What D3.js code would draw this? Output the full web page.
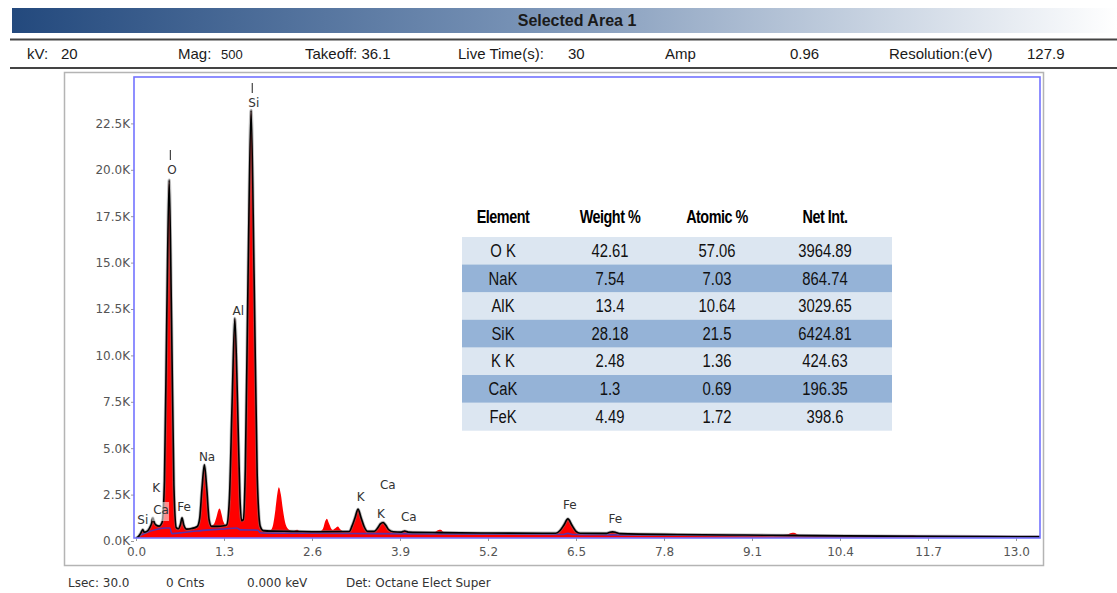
<!DOCTYPE html>
<html><head><meta charset="utf-8">
<script src="https://cdn.jsdelivr.net/npm/d3@7"></script>
<style>
html,body{margin:0;padding:0;background:#fff;}
svg{display:block;}
</style></head>
<body>
<svg id="c" width="1117" height="593"></svg>
<script>
// ---------------- DATA ----------------
const title = "Selected Area 1";
const infoItems = [
  {t:"kV:", x:27}, {t:"20", x:61}, {t:"Mag:", x:178}, {t:"500", x:221, small:true},
  {t:"Takeoff: 36.1", x:305}, {t:"Live Time(s):", x:458}, {t:"30", x:568},
  {t:"Amp", x:665}, {t:"0.96", x:790}, {t:"Resolution:(eV)", x:889}, {t:"127.9", x:1027}
];
const xTicks = [0.0, 1.3, 2.6, 3.9, 5.2, 6.5, 7.8, 9.1, 10.4, 11.7, 13.0];
const yTicks = [0, 2500, 5000, 7500, 10000, 12500, 15000, 17500, 20000, 22500];

// measured spectrum [keV, counts]
const spectrum = [
 [0.00,150],[0.04,250],[0.07,420],[0.10,620],[0.12,480],[0.16,520],[0.20,700],[0.23,950],[0.25,1250],
 [0.27,1000],[0.30,850],[0.34,800],[0.385,1000],[0.42,3200],[0.455,12200],[0.49,19450],
 [0.525,12000],[0.56,3000],[0.595,750],[0.625,700],[0.655,900],[0.68,1250],[0.705,900],[0.75,670],
 [0.80,690],[0.86,740],[0.905,820],[0.94,1200],[0.975,2850],[1.01,4100],[1.045,2850],[1.08,1150],
 [1.115,830],[1.15,900],[1.19,1300],[1.215,1650],[1.235,1750],[1.26,1500],[1.29,1050],[1.33,860],
 [1.34,870],[1.38,2300],[1.42,7500],[1.46,12000],[1.50,7500],[1.535,2400],[1.56,1100],[1.585,1150],
 [1.615,3900],[1.655,14200],[1.70,23200],[1.745,14200],[1.79,3600],[1.835,800],[1.88,560],
 [1.94,520],[1.98,560],[2.02,800],[2.06,1700],[2.09,2600],[2.11,2900],[2.14,2500],[2.17,1700],
 [2.21,900],[2.26,600],[2.32,520],[2.38,600],[2.42,520],[2.55,500],[2.70,500],[2.76,650],[2.80,1100],
 [2.82,1200],[2.85,950],[2.90,600],[2.95,700],[2.98,780],[3.02,620],[3.10,500],[3.15,520],[3.19,800],
 [3.235,1250],[3.28,1720],[3.325,1250],[3.37,780],[3.42,520],[3.52,520],[3.57,700],[3.61,920],
 [3.65,1000],[3.69,850],[3.73,620],[3.80,500],[3.92,480],[3.97,560],[4.02,480],[4.40,460],[4.46,580],
 [4.50,600],[4.55,470],[4.80,440],[5.20,430],[5.60,420],[6.00,420],[6.20,420],[6.26,550],[6.32,850],
 [6.38,1190],[6.44,850],[6.50,520],[6.56,420],[6.95,410],[7.00,470],[7.04,490],[7.09,460],[7.15,400],
 [7.60,380],[8.20,350],[8.80,330],[9.50,310],[9.62,350],[9.68,430],[9.72,440],[9.78,340],[9.90,300],
 [10.50,280],[11.30,260],[11.42,300],[11.48,310],[11.55,260],[12.20,240],[13.00,230],[13.40,220]
];
// fitted spectrum [keV, counts]
const fit = [
 [0.00,150],[0.04,250],[0.07,420],[0.10,620],[0.12,480],[0.16,520],[0.20,700],[0.23,950],[0.25,1250],
 [0.27,1000],[0.30,850],[0.34,800],[0.385,1000],[0.42,3200],[0.455,12200],[0.49,19450],
 [0.525,12000],[0.56,3000],[0.595,720],[0.625,660],[0.655,880],[0.68,1250],[0.705,880],[0.75,640],
 [0.82,670],[0.905,780],[0.94,1200],[0.975,2850],[1.01,4100],[1.045,2850],[1.08,1150],[1.115,790],
 [1.20,790],[1.30,820],[1.34,870],[1.38,2300],[1.42,7500],[1.46,12000],[1.50,7500],[1.535,2400],
 [1.56,1100],[1.585,1150],[1.615,3900],[1.655,14200],[1.70,23200],[1.745,14200],[1.79,3600],
 [1.835,800],[1.88,560],[2.00,530],[2.30,520],[2.70,500],[3.15,510],[3.19,800],[3.235,1250],[3.28,1720],
 [3.325,1250],[3.37,780],[3.42,520],[3.52,520],[3.57,700],[3.61,920],[3.65,1000],[3.69,850],[3.73,620],
 [3.80,500],[3.92,480],[3.97,540],[4.02,480],[4.50,450],[5.20,430],[6.00,420],[6.20,420],[6.26,550],
 [6.32,850],[6.38,1190],[6.44,850],[6.50,520],[6.56,420],[6.95,410],[7.00,470],[7.04,490],[7.09,460],
 [7.15,400],[8.00,350],[9.00,320],[10.00,290],[11.00,265],[12.00,245],[13.40,220]
];
// background [keV, counts]
const background = [
 [0.03,250],[0.15,450],[0.30,620],[0.44,700],[0.50,700],[0.53,400],[0.70,460],[0.90,540],[1.10,600],
 [1.30,650],[1.49,700],[1.54,600],[1.80,580],[1.84,430],[2.50,420],[3.50,400],[5.00,370],[6.30,350],
 [6.38,410],[6.46,350],[7.00,330],[9.00,300],[11.00,270],[13.40,240]
];
// peak labels [text, keV, counts at baseline]
const peakLabels = [
 ["Si",0.10,916],["K",0.30,2640],["Ca",0.37,1455],["Fe",0.71,1616],["O",0.53,19770],
 ["Na",1.05,4310],["Al",1.51,12180],["Si",1.74,23380],["K",3.32,2155],["Ca",3.72,2800],
 ["K",3.62,1240],["Ca",4.03,1078],["Fe",6.41,1724],["Fe",7.08,970]
];
const markedLabels = ["O","Si"]; // labels with a marker line above (major peaks)

// table
const tableHeader = ["Element", "Weight %", "Atomic %", "Net Int."];
const elements = ["O K","NaK","AlK","SiK","K K","CaK","FeK"];
const weightPct = [42.61, 7.54, 13.4, 28.18, 2.48, 1.3, 4.49];
const atomicPct = [57.06, 7.03, 10.64, 21.5, 1.36, 0.69, 1.72];
const netInt = [3964.89, 864.74, 3029.65, 6424.81, 424.63, 196.35, 398.6];

const footer = [{t:"Lsec: 30.0", x:68}, {t:"0 Cnts", x:166}, {t:"0.000 keV", x:247}, {t:"Det: Octane Elect Super", x:346}];

// ---------------- DRAW ----------------
const svg = d3.select("#c");
const defs = svg.append("defs");
const grad = defs.append("linearGradient").attr("id","hdr").attr("x1","0").attr("x2","1").attr("y1","0").attr("y2","0");
grad.append("stop").attr("offset","0").attr("stop-color","#23497d");
grad.append("stop").attr("offset","0.45").attr("stop-color","#7590b4");
grad.append("stop").attr("offset","0.8").attr("stop-color","#cdd7e4");
grad.append("stop").attr("offset","1").attr("stop-color","#ffffff");

svg.append("rect").attr("x",12).attr("y",8).attr("width",1105).attr("height",25).attr("fill","url(#hdr)");
svg.append("text").attr("x",577).attr("y",26).attr("text-anchor","middle")
  .attr("font-family","Liberation Sans, Arial, sans-serif").attr("font-weight","bold").attr("font-size",16)
  .attr("fill","#1a1a1a").text(title);

svg.append("line").attr("x1",10).attr("x2",1117).attr("y1",39.5).attr("y2",39.5).attr("stroke","#444").attr("stroke-width",2);
svg.append("line").attr("x1",10).attr("x2",1117).attr("y1",68).attr("y2",68).attr("stroke","#444").attr("stroke-width",2);

svg.append("g").selectAll("text").data(infoItems).join("text")
  .attr("x",d=>d.x).attr("y",59)
  .attr("font-family","Liberation Sans, Arial, sans-serif")
  .attr("font-size",d=>d.small?13:15).attr("fill","#1a1a1a").text(d=>d.t);

// outer frame
svg.append("rect").attr("x",64.5).attr("y",72.5).attr("width",979).attr("height",493)
  .attr("fill","none").attr("stroke","#b4b4b4").attr("stroke-width",1.5);

const L=134, R=1040, T=77, B=538;
const x = d3.scaleLinear().domain([0,13]).range([136,1016]);
const y = d3.scaleLinear().domain([0,25000]).range([541,77]);

defs.append("clipPath").attr("id","pc").append("rect").attr("x",L).attr("y",T).attr("width",R-L).attr("height",B-T);
const plot = svg.append("g").attr("clip-path","url(#pc)");

const area = d3.area().x(d=>x(d[0])).y0(B).y1(d=>y(d[1])).curve(d3.curveMonotoneX);
const line = d3.line().x(d=>x(d[0])).y(d=>y(d[1])).curve(d3.curveMonotoneX);

plot.append("path").datum(spectrum).attr("d",area).attr("fill","#ff0000");
plot.append("path").datum(background).attr("d",line).attr("fill","none").attr("stroke","#5b2fa8").attr("stroke-width",1.6);
plot.append("path").datum(fit).attr("d",line).attr("fill","none").attr("stroke","#7a7a7a").attr("stroke-width",3.2).attr("stroke-opacity",0.5);
plot.append("path").datum(fit).attr("d",line).attr("fill","none").attr("stroke","#000").attr("stroke-width",1.6);

// peak labels
const lblG = svg.append("g").attr("font-family","DejaVu Sans, sans-serif").attr("font-size",12).attr("fill","#333");
peakLabels.forEach(([t,e,c],i)=>{
  if (t==="Ca" && i===2) {
    lblG.append("rect").attr("x",x(e)-9).attr("y",y(c)-12).attr("width",17).attr("height",19)
      .attr("fill","#fff").attr("fill-opacity",0.55);
  }
  lblG.append("text").attr("x",x(e)).attr("y",y(c)).attr("text-anchor","middle").text(t);
  if (markedLabels.includes(t) && c>15000) {
    lblG.append("line").attr("x1",x(e)-1.5).attr("x2",x(e)-1.5).attr("y1",y(c)-24).attr("y2",y(c)-14)
      .attr("stroke","#444").attr("stroke-width",1.2);
  }
});

// axes
const yAxis = d3.axisLeft(y).tickValues(yTicks).tickSize(3).tickPadding(1)
  .tickFormat(d=>(d/1000).toFixed(1)+"K");
const gy = svg.append("g").attr("transform",`translate(${L},0)`).call(yAxis);
const xAxis = d3.axisBottom(x).tickValues(xTicks).tickSize(3).tickPadding(6).tickFormat(d3.format(".1f"));
const gx = svg.append("g").attr("transform",`translate(0,${B})`).call(xAxis);
[gx,gy].forEach(g=>{
  g.select(".domain").remove();
  g.selectAll("line").attr("stroke","#999");
  g.selectAll("text").attr("font-family","DejaVu Sans, sans-serif").attr("font-size",12).attr("fill","#555");
});

// plot border
svg.append("rect").attr("x",L).attr("y",T).attr("width",R-L).attr("height",B-T)
  .attr("fill","none").attr("stroke","#7373ff").attr("stroke-width",1.6);

// table
const tX=462, tW=430, tTop=237, rowH=27.6;
const colX=[503,610,717,825];
const tbl = svg.append("g");
tbl.selectAll("text.h").data(tableHeader).join("text").attr("class","h")
  .attr("transform",(d,i)=>`translate(${colX[i]},223) scale(0.8,1)`)
  .attr("text-anchor","middle").attr("font-family","Liberation Sans, Arial, sans-serif")
  .attr("font-weight","bold").attr("font-size",18).attr("letter-spacing",-0.6).attr("fill","#000").text(d=>d);
tbl.selectAll("rect.r").data(elements).join("rect").attr("class","r")
  .attr("x",tX).attr("y",(d,i)=>tTop+i*rowH).attr("width",tW).attr("height",rowH+0.5)
  .attr("fill",(d,i)=>i%2? "#95b3d7":"#dce6f1");
const rows = elements.map((e,i)=>[e, String(weightPct[i]), String(atomicPct[i]), String(netInt[i])]);
rows.forEach((r,i)=>{
  r.forEach((v,j)=>{
    tbl.append("text").attr("transform",`translate(${colX[j]},${tTop+i*rowH+20}) scale(0.78,1)`)
      .attr("text-anchor","middle").attr("font-family","Liberation Sans, Arial, sans-serif")
      .attr("font-size",19).attr("fill","#111").text(v);
  });
});

// footer
svg.append("g").selectAll("text").data(footer).join("text")
  .attr("x",d=>d.x).attr("y",587).attr("font-family","DejaVu Sans, sans-serif")
  .attr("font-size",12).attr("fill","#333").text(d=>d.t);
</script>
</body></html>
